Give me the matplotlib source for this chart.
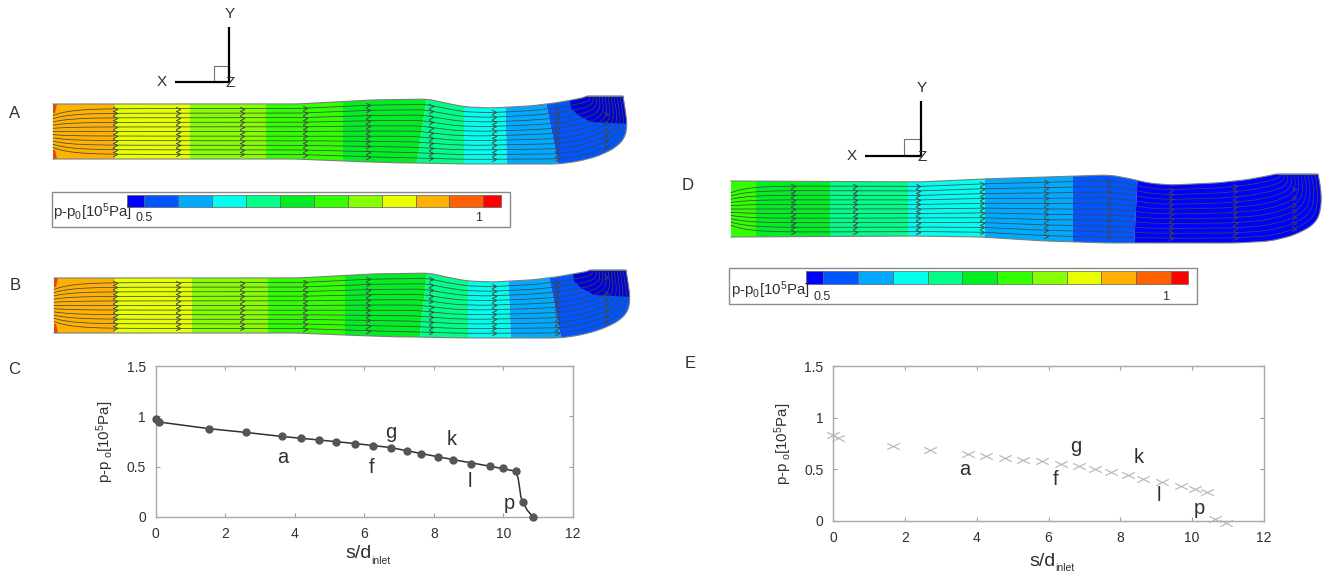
import numpy as np
import matplotlib
matplotlib.use("Agg")
import matplotlib.pyplot as plt
from matplotlib.patches import Polygon, Rectangle
from matplotlib.path import Path

plt.rcParams['font.family'] = ['Liberation Sans', 'DejaVu Sans']
plt.rcParams['mathtext.default'] = 'regular'

# band colours of the pressure scale, low to high
scale_colors = ['#0000ff', '#0055ff', '#00aaff', '#00ffee', '#00ff88', '#00ee22',
                '#33ff00', '#88ff00', '#e8ff00', '#ffb000', '#ff6000', '#ff0000']

# walls of the ducts (figure pixels), matched station by station
a_top_x = [53, 297, 369, 428, 445, 466, 492, 530, 555, 572, 582, 585, 586, 587, 587]
a_top_y = [104, 104, 100, 99, 103, 107, 108, 106, 103, 100, 98, 97, 96.5, 96, 96]
a_bot_x = [53, 297, 369, 403, 420, 440, 466, 510, 559, 580, 602, 623, 628, 626, 623]
a_bot_y = [159, 159, 162, 163, 163, 163.5, 164, 164, 164, 161, 155, 143, 132, 114, 96]

d_top_x = [731, 918, 982, 1045, 1109, 1127, 1148, 1170, 1216, 1245, 1262, 1272, 1276, 1277, 1277]
d_top_y = [181, 182, 179, 177, 175, 178, 183, 185, 183, 180, 177, 175, 174, 174, 174]
d_bot_x = [731, 918, 982, 1045, 1109, 1127, 1148, 1170, 1236, 1271, 1295, 1317, 1321, 1322, 1318]
d_bot_y = [237, 236, 237, 241, 243, 243, 243, 243, 243, 241, 235, 223, 210, 193, 174]

# contour bands: left and right edge at top and bottom wall, colour index
a_bands = [(53, 53, 115, 115, 9), (115, 115, 190, 190, 8), (190, 190, 266, 266, 7),
           (266, 266, 343, 343, 6), (343, 343, 428, 416, 5), (428, 416, 464, 464, 4),
           (464, 464, 505, 507, 3), (505, 507, 544, 559, 2), (544, 559, 640, 640, 1)]
b_bands = [(54, 54, 115, 115, 9), (115, 115, 192, 192, 8), (192, 192, 268, 268, 7),
           (268, 268, 345, 345, 6), (345, 345, 428, 419, 5), (428, 419, 468, 468, 4),
           (468, 468, 508, 511, 3), (508, 511, 547, 562, 2), (547, 562, 640, 640, 1)]
d_bands = [(731, 731, 756, 756, 6), (756, 756, 830, 830, 5), (830, 830, 908, 908, 4),
           (908, 908, 985, 985, 3), (985, 985, 1073, 1073, 2), (1073, 1073, 1138, 1134, 1),
           (1138, 1134, 1330, 1330, 0)]

# deep blue patch at the outlet of A and B
a_deep_x = [570, 571, 578, 591, 630, 630, 587]
a_deep_y = [100, 108, 115, 122, 124, 90, 90]

# chevron stations along the ducts
a_stations = [115, 178, 242, 305, 368, 431, 494, 557, 606]
d_stations = [793, 855, 918, 982, 1046, 1109, 1171, 1235, 1294]

# legends: segment edges in pixels
a_bar_edges = [127, 144, 178, 212, 246, 280, 314, 348, 382, 416, 449, 483, 501]
d_bar_edges = [806, 823, 858, 893, 928, 962, 997, 1032, 1067, 1101, 1136, 1171, 1188]

# chart C
c_x = [0, 0.09, 1.55, 2.6, 3.64, 4.17, 4.7, 5.18, 5.73, 6.25, 6.76, 7.22, 7.64, 8.12,
       8.55, 9.07, 9.61, 10.0, 10.35, 10.56, 10.85]
c_y = [0.977, 0.944, 0.877, 0.84, 0.80, 0.785, 0.765, 0.748, 0.73, 0.71, 0.69, 0.66,
       0.63, 0.60, 0.57, 0.53, 0.505, 0.487, 0.455, 0.15, 0.0]
c_line_x = [0, 0.09, 1.55, 2.6, 3.64, 4.7, 5.73, 6.76, 7.64, 8.55, 9.61, 10.35, 10.42,
            10.47, 10.5, 10.56, 10.68, 10.85]
c_line_y = [0.977, 0.944, 0.877, 0.84, 0.80, 0.765, 0.73, 0.69, 0.63, 0.57, 0.505, 0.455,
            0.39, 0.28, 0.2, 0.15, 0.07, 0.0]

# chart E
e_x = [0, 0.13, 1.67, 2.7, 3.75, 4.27, 4.78, 5.29, 5.83, 6.34, 6.86, 7.3, 7.73, 8.21,
       8.63, 9.15, 9.7, 10.08, 10.42, 10.64, 10.95]
e_y = [0.83, 0.80, 0.727, 0.689, 0.647, 0.628, 0.608, 0.595, 0.576, 0.55, 0.531, 0.508,
       0.476, 0.45, 0.409, 0.373, 0.338, 0.309, 0.28, 0.016, -0.019]

letters = ['a', 'g', 'f', 'k', 'l', 'p']
c_letter_x = [3.67, 6.75, 6.2, 8.52, 9.05, 10.18]
c_letter_y = [0.59, 0.84, 0.49, 0.77, 0.35, 0.13]
e_letter_x = [3.68, 6.76, 6.2, 8.52, 9.06, 10.19]
e_letter_y = [0.50, 0.72, 0.405, 0.615, 0.25, 0.12]

x_ticks = [0, 2, 4, 6, 8, 10, 12]
y_ticks = [0, 0.5, 1, 1.5]
y_tick_labels = ['0', '0.5', '1', '1.5']

W, H = 1322, 573
fig = plt.figure(figsize=(W / 100, H / 100), dpi=100)
bg = fig.add_axes([0, 0, 1, 1])
bg.set_xlim(0, W)
bg.set_ylim(H, 0)
bg.axis('off')

TEXT = '#303030'
chevron = Path([(-1, -1), (1, 0), (-1, 1)], [Path.MOVETO, Path.LINETO, Path.LINETO])
flat_x = Path([(-1, -0.5), (1, 0.5), (-1, 0.5), (1, -0.5)],
              [Path.MOVETO, Path.LINETO, Path.MOVETO, Path.LINETO])


def walls(top_x, top_y, bot_x, bot_y, n=900, win=25):
    # both walls on one parameter, spaced by length so the smoothing is even
    seg = (np.hypot(np.diff(top_x), np.diff(top_y)) + np.hypot(np.diff(bot_x), np.diff(bot_y))) / 2
    s = np.r_[0, np.cumsum(seg)]
    grid = np.linspace(0, s[-1], n)
    out = []
    k = np.ones(win) / win
    for v in (top_x, top_y, bot_x, bot_y):
        r = np.interp(grid, s, v)
        pad = np.pad(r, win // 2, mode='reflect', reflect_type='odd')
        out.append(np.convolve(pad, k, mode='valid'))
    return out


def duct(top_x, top_y, bot_x, bot_y, bands, stations, n_lines=11, deep=None, corners=False):
    tx, ty, bx, by = walls(top_x, top_y, bot_x, bot_y)
    outline = np.column_stack([np.r_[tx, bx[::-1]], np.r_[ty, by[::-1]]])
    clip = Polygon(outline, closed=True, transform=bg.transData)
    for xa, xb, xc, xd, c in bands:
        p = Polygon([(xa, min(ty) - 5), (xc, min(ty) - 5), (xd, max(by) + 5), (xb, max(by) + 5)],
                    closed=True, fc=scale_colors[c], ec='none', zorder=2)
        bg.add_patch(p)
        p.set_clip_path(clip)
    if deep is not None:
        p = Polygon(np.column_stack(deep), closed=True, fc='#0000d8', ec='none', zorder=3)
        bg.add_patch(p)
        p.set_clip_path(clip)
    if corners:
        for cy, sy in [(top_y[0], 1), (bot_y[0], -1)]:
            p = Polygon([(top_x[0], cy), (top_x[0] + 4, cy), (top_x[0] + 2, cy + 9 * sy), (top_x[0], cy + 9 * sy)],
                        closed=True, fc='#e04a10', ec='none', zorder=3)
            bg.add_patch(p)
    # streamlines between the walls, pinched a bit at the inlet
    for f in np.linspace(0, 1, n_lines + 2)[1:-1]:
        x = tx + f * (bx - tx)
        fan = 0.5 + (f - 0.5) * (1 - 0.3 * np.exp(-(x - x[0]) / 18))
        y = ty + fan * (by - ty)
        bg.plot(x, y, color='#404848', lw=0.55, zorder=4)
        for s in stations:
            i = np.argmin(np.abs(x - s))
            if abs(x[i] - s) < 2:
                bg.plot(x[i], y[i], marker=chevron, ms=3.2, mfc='none', mec='#404848', mew=0.7, zorder=5)
    bg.plot(outline[:, 0], outline[:, 1], color='#78807c', lw=0.8, zorder=6)
    bg.plot([tx[-1], bx[-1]], [ty[-1], by[-1]], color='#78807c', lw=0.6, zorder=6)


def triad(vx, vtop, hy, hleft, boxx, boxy):
    bg.plot([vx, vx], [vtop, hy], color='black', lw=1.6, solid_capstyle='butt')
    bg.plot([hleft, vx], [hy, hy], color='black', lw=1.6, solid_capstyle='butt')
    bg.add_patch(Rectangle((boxx, boxy), vx - boxx, hy - boxy, fc='none', ec='#707070', lw=0.8))
    bg.text(vx + 1, vtop - 13, 'Y', fontsize=11, ha='center', va='center', color=TEXT)
    bg.text(hleft - 13, hy, 'X', fontsize=11, ha='center', va='center', color=TEXT)
    bg.text(vx + 1, hy + 1, 'Z', fontsize=11, ha='center', va='center', color=TEXT)


def scale_bar(box, edges, bar_y, label_x, label_y, tick_y, tick5, tick1):
    bg.add_patch(Rectangle((box[0], box[1]), box[2] - box[0], box[3] - box[1], fc='white', ec='#8a8a8a', lw=1))
    for i in range(len(scale_colors)):
        bg.add_patch(Rectangle((edges[i], bar_y[0]), edges[i + 1] - edges[i], bar_y[1] - bar_y[0],
                               fc=scale_colors[i], ec='#606060', lw=0.5))
    bg.text(label_x, label_y, 'p-p$_0$[10$^5$Pa]', fontsize=10.8, va='center', ha='left', color=TEXT)
    bg.text(tick5, tick_y, '0.5', fontsize=9, va='center', ha='center', color=TEXT)
    bg.text(tick1, tick_y, '1', fontsize=9, va='center', ha='center', color=TEXT)


def chart(x0, x1, ytop, ybot, ylab_x, sd_x, sd_y, inlet_x, inlet_y):
    ax = fig.add_axes([x0 / W, 1 - ybot / H, (x1 - x0) / W, (ybot - ytop) / H])
    ax.set_xlim(0, 12)
    ax.set_ylim(0, 1.5)
    ax.set_xticks(x_ticks)
    ax.set_yticks(y_ticks)
    ax.set_yticklabels(y_tick_labels)
    ax.tick_params(direction='in', length=3, color='#a0a0a0', labelcolor=TEXT, labelsize=10,
                   top=True, right=True, pad=7)
    for sp in ax.spines.values():
        sp.set_color('#a8a8a8')
        sp.set_linewidth(1.0)
    ax.patch.set_alpha(0)
    bg.text(sd_x, sd_y, 's/d', fontsize=14, ha='center', va='center', color=TEXT)
    bg.text(inlet_x, inlet_y, 'inlet', fontsize=7.5, ha='center', va='center', color=TEXT)
    bg.text(ylab_x, (ytop + ybot) / 2, 'p-p$_{\\ o}$[10$^5$Pa]', fontsize=10.8, rotation=90,
            ha='center', va='center', color=TEXT)
    return ax


# duct panels, B shares the wall shape of A
duct(a_top_x, a_top_y, a_bot_x, a_bot_y, a_bands, a_stations, deep=(a_deep_x, a_deep_y), corners=True)
duct([x + 1 for x in a_top_x[:-5]] + [x + 3 for x in a_top_x[-5:]], [y + 174 for y in a_top_y],
     [x + 1 for x in a_bot_x[:-4]] + [x + 3 for x in a_bot_x[-4:]], [y + 174 for y in a_bot_y],
     b_bands, a_stations, deep=([x + 3 for x in a_deep_x], [y + 173 for y in a_deep_y]), corners=True)
duct(d_top_x, d_top_y, d_bot_x, d_bot_y, d_bands, d_stations)

triad(229, 27, 82, 175, 214, 66)
triad(921, 101, 156, 865, 904, 139)

scale_bar((52, 192, 510, 227), a_bar_edges, (195, 207), 53, 212, 218, 144, 479)
scale_bar((729, 268, 1197, 304), d_bar_edges, (271, 284), 731, 290, 297, 822, 1166)

panel_labels = ['A', 'B', 'C', 'D', 'E']
panel_x = [15, 15, 14, 688, 690]
panel_y = [113, 285, 370, 186, 363]
for s, px, py in zip(panel_labels, panel_x, panel_y):
    bg.text(px, py, s, fontsize=12, ha='center', va='center', color=TEXT)

# chart C
ax_c = chart(155.5, 573, 366, 517, 105, 359, 553, 381, 561)
ax_c.plot(c_line_x, c_line_y, color=TEXT, lw=1.1, clip_on=False)
ax_c.plot(c_x, c_y, 'o', color='#555555', ms=5, clip_on=False, zorder=5)
for s, lx, ly in zip(letters, c_letter_x, c_letter_y):
    ax_c.text(lx, ly, s, fontsize=14.5, ha='center', va='center', color=TEXT)

# chart E
ax_e = chart(833, 1264, 366, 521, 783, 1043, 561, 1065, 568)
ax_e.plot(e_x, e_y, linestyle='none', marker=flat_x, color='#b4b4b4', ms=9, mew=0.8, clip_on=False, zorder=5)
for s, lx, ly in zip(letters, e_letter_x, e_letter_y):
    ax_e.text(lx, ly, s, fontsize=14.5, ha='center', va='center', color=TEXT)

fig.savefig('out.png', dpi=100)
